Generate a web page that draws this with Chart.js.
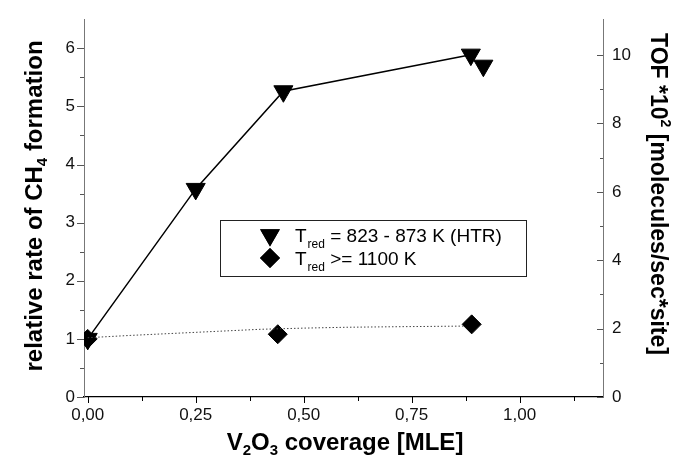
<!DOCTYPE html>
<html>
<head>
<meta charset="utf-8">
<script src="https://cdn.jsdelivr.net/npm/chart.js@4/dist/chart.umd.min.js"></script>
<style>
  html, body { margin: 0; padding: 0; background: #fff; }
  #wrap { width: 678px; height: 455px; }
</style>
</head>
<body>
<div id="wrap"><canvas id="grafica" width="678" height="455"></canvas></div>
<script>
// datos
var htrX = [0, 0.25, 0.453, 0.887, 0.916];
var htrY = [1.0, 3.58, 5.26, 5.89, 5.70];
var hiX = [0, 0.44, 0.889];
var hiY = [1.0, 1.08, 1.25];
var fitX = [0, 0.1, 0.2, 0.3, 0.4, 0.5, 0.6, 0.7, 0.8, 0.87];
var fitY = [1.02, 1.06, 1.095, 1.13, 1.165, 1.185, 1.2, 1.208, 1.215, 1.22];

var xMajor = [0, 0.25, 0.5, 0.75, 1.0];
var xMinor = [0.125, 0.375, 0.625, 0.875, 1.125];
var yMajor = [0, 1, 2, 3, 4, 5, 6];
var yMinor = [0.5, 1.5, 2.5, 3.5, 4.5, 5.5];
var y2Major = [0, 2, 4, 6, 8, 10];
var y2Minor = [1, 3, 5, 7, 9];

var legendLabels = [
  ["T", "red", " = 823 - 873 K (HTR)"],
  ["T", "red", " >= 1100 K"]
];

function pares(xs, ys) {
  return xs.map(function (x, i) { return { x: x, y: ys[i] }; });
}

function coma(v) { return v.toFixed(2).replace('.', ','); }

// texto con sub/superindices
function textoRico(ctx, partes, x, y) {
  var total = 0;
  partes.forEach(function (p) {
    ctx.font = p.f;
    total += ctx.measureText(p.t).width;
  });
  var cx = x - total / 2;
  partes.forEach(function (p) {
    ctx.font = p.f;
    ctx.fillText(p.t, cx, y + (p.dy || 0));
    cx += ctx.measureText(p.t).width;
  });
}

var extras = {
  id: 'extras',
  afterDraw: function (chart) {
    var ctx = chart.ctx;
    var sx = chart.scales.x, sy = chart.scales.y, sy2 = chart.scales.y2;
    var a = chart.chartArea;
    ctx.save();
    // marcas de los ejes
    ctx.lineWidth = 1;
    ctx.strokeStyle = '#000';
    function marca(x1, y1, x2, y2) {
      ctx.beginPath(); ctx.moveTo(x1, y1); ctx.lineTo(x2, y2); ctx.stroke();
    }
    xMajor.forEach(function (v) { var p = Math.round(sx.getPixelForValue(v)) + 0.5; marca(p, a.bottom, p, a.bottom + 6); });
    xMinor.forEach(function (v) { var p = Math.round(sx.getPixelForValue(v)) + 0.5; marca(p, a.bottom, p, a.bottom + 4); });
    ctx.strokeStyle = '#555';
    yMajor.forEach(function (v) { var p = Math.round(sy.getPixelForValue(v)) + 0.5; marca(a.left - 7, p, a.left, p); });
    yMinor.forEach(function (v) { var p = Math.round(sy.getPixelForValue(v)) + 0.5; marca(a.left - 4, p, a.left, p); });
    y2Major.forEach(function (v) { var p = Math.round(sy2.getPixelForValue(v)) + 0.5; marca(a.right - 6, p, a.right, p); });
    y2Minor.forEach(function (v) { var p = Math.round(sy2.getPixelForValue(v)) + 0.5; marca(a.right - 3, p, a.right, p); });

    // titulos de los ejes
    ctx.fillStyle = '#000';
    ctx.textBaseline = 'alphabetic';
    ctx.textAlign = 'left';
    var B = 'bold 24px "Liberation Sans", Arial, sans-serif';
    var S = 'bold 15px "Liberation Sans", Arial, sans-serif';
    textoRico(ctx, [
      { t: 'V', f: B }, { t: '2', f: S, dy: 5 }, { t: 'O', f: B }, { t: '3', f: S, dy: 5 },
      { t: ' coverage [MLE]', f: B }
    ], 345, 450);

    ctx.save();
    ctx.translate(42, 206);
    ctx.rotate(-Math.PI / 2);
    textoRico(ctx, [
      { t: 'relative rate of CH', f: B }, { t: '4', f: S, dy: 5 }, { t: ' formation', f: B }
    ], 0, 0);
    ctx.restore();

    var B2 = 'bold 23px "Liberation Sans", Arial, sans-serif';
    var S2 = 'bold 14px "Liberation Sans", Arial, sans-serif';
    ctx.save();
    ctx.translate(651, 194);
    ctx.rotate(Math.PI / 2);
    textoRico(ctx, [
      { t: 'TOF *10', f: B2 }, { t: '2', f: S2, dy: -10 }, { t: ' [molecules/sec*site]', f: B2 }
    ], 0, 0);
    ctx.restore();

    // leyenda
    ctx.strokeStyle = '#222';
    ctx.lineWidth = 1;
    ctx.strokeRect(220.5, 220.5, 306, 56);
    ctx.fillStyle = '#000';
    Chart.helpers.drawPoint(ctx, { pointStyle: 'triangle', radius: 11.5, rotation: 180 }, 270, 235);
    ctx.fill();
    Chart.helpers.drawPoint(ctx, { pointStyle: 'rectRot', radius: 10, rotation: 0 }, 270, 258);
    ctx.fill();
    var base = [242, 265];
    legendLabels.forEach(function (l, i) {
      var x = 295;
      ctx.font = '19px "Liberation Sans", Arial, sans-serif';
      ctx.fillText(l[0], x, base[i]);
      x += ctx.measureText(l[0]).width + 1;
      ctx.font = '12px "Liberation Sans", Arial, sans-serif';
      ctx.fillText(l[1], x, base[i] + 6);
      x += ctx.measureText(l[1]).width;
      ctx.font = '19px "Liberation Sans", Arial, sans-serif';
      ctx.fillText(l[2], x, base[i]);
    });
    ctx.restore();
  }
};

var fuente = { family: '"Liberation Sans", Arial, sans-serif', size: 17 };

var grafica = new Chart(document.getElementById('grafica').getContext('2d'), {
  type: 'scatter',
  data: {
    datasets: [{
      label: 'ajuste',
      data: pares(fitX, fitY),
      showLine: true,
      borderColor: '#444',
      borderWidth: 1,
      borderDash: [1.5, 2],
      pointRadius: 0,
      yAxisID: 'y'
    }, {
      label: 'T red >= 1100 K',
      data: pares(hiX, hiY),
      showLine: false,
      pointStyle: 'rectRot',
      pointRadius: 9.5,
      pointBackgroundColor: '#000',
      pointBorderColor: '#000',
      pointBorderWidth: 1,
      yAxisID: 'y'
    }, {
      label: 'T red = 823 - 873 K (HTR)',
      data: pares(htrX, htrY),
      showLine: true,
      borderColor: '#000',
      borderWidth: 1.5,
      segment: {
        borderColor: function (c) { return c.p0DataIndex === 3 ? 'rgba(0,0,0,0)' : '#000'; }
      },
      pointStyle: 'triangle',
      rotation: 180,
      pointRadius: 11,
      pointBackgroundColor: '#000',
      pointBorderColor: '#000',
      pointBorderWidth: 1,
      yAxisID: 'y'
    }]
  },
  options: {
    responsive: false,
    animation: false,
    layout: { padding: { top: 13, left: 0, right: 0, bottom: 0 } },
    plugins: { legend: { display: false }, tooltip: { enabled: false } },
    scales: {
      x: {
        type: 'linear',
        min: -0.0086,
        max: 1.193,
        afterBuildTicks: function (s) { s.ticks = xMajor.map(function (v) { return { value: v }; }); },
        afterFit: function (s) { s.height = 58; },
        ticks: {
          autoSkip: false, maxRotation: 0, padding: 8,
          color: '#111', font: fuente,
          callback: function (v) { return coma(v); }
        },
        grid: { display: true, drawOnChartArea: false, drawTicks: false },
        border: { display: true, color: '#000', width: 1.3 }
      },
      y: {
        position: 'left',
        min: 0,
        max: 6.5,
        afterBuildTicks: function (s) { s.ticks = yMajor.map(function (v) { return { value: v }; }); },
        afterFit: function (s) { s.width = 84; },
        ticks: { autoSkip: false, padding: 9, color: '#111', font: fuente },
        grid: { display: true, drawOnChartArea: false, drawTicks: false },
        border: { display: true, color: '#777', width: 1 }
      },
      y2: {
        position: 'right',
        min: 0,
        max: 11.05,
        afterBuildTicks: function (s) { s.ticks = y2Major.map(function (v) { return { value: v }; }); },
        afterFit: function (s) { s.width = 75; },
        ticks: { autoSkip: false, padding: 9, color: '#111', font: fuente },
        grid: { display: true, drawOnChartArea: false, drawTicks: false },
        border: { display: true, color: '#777', width: 1 }
      }
    }
  },
  plugins: [extras]
});
</script>
</body>
</html>
